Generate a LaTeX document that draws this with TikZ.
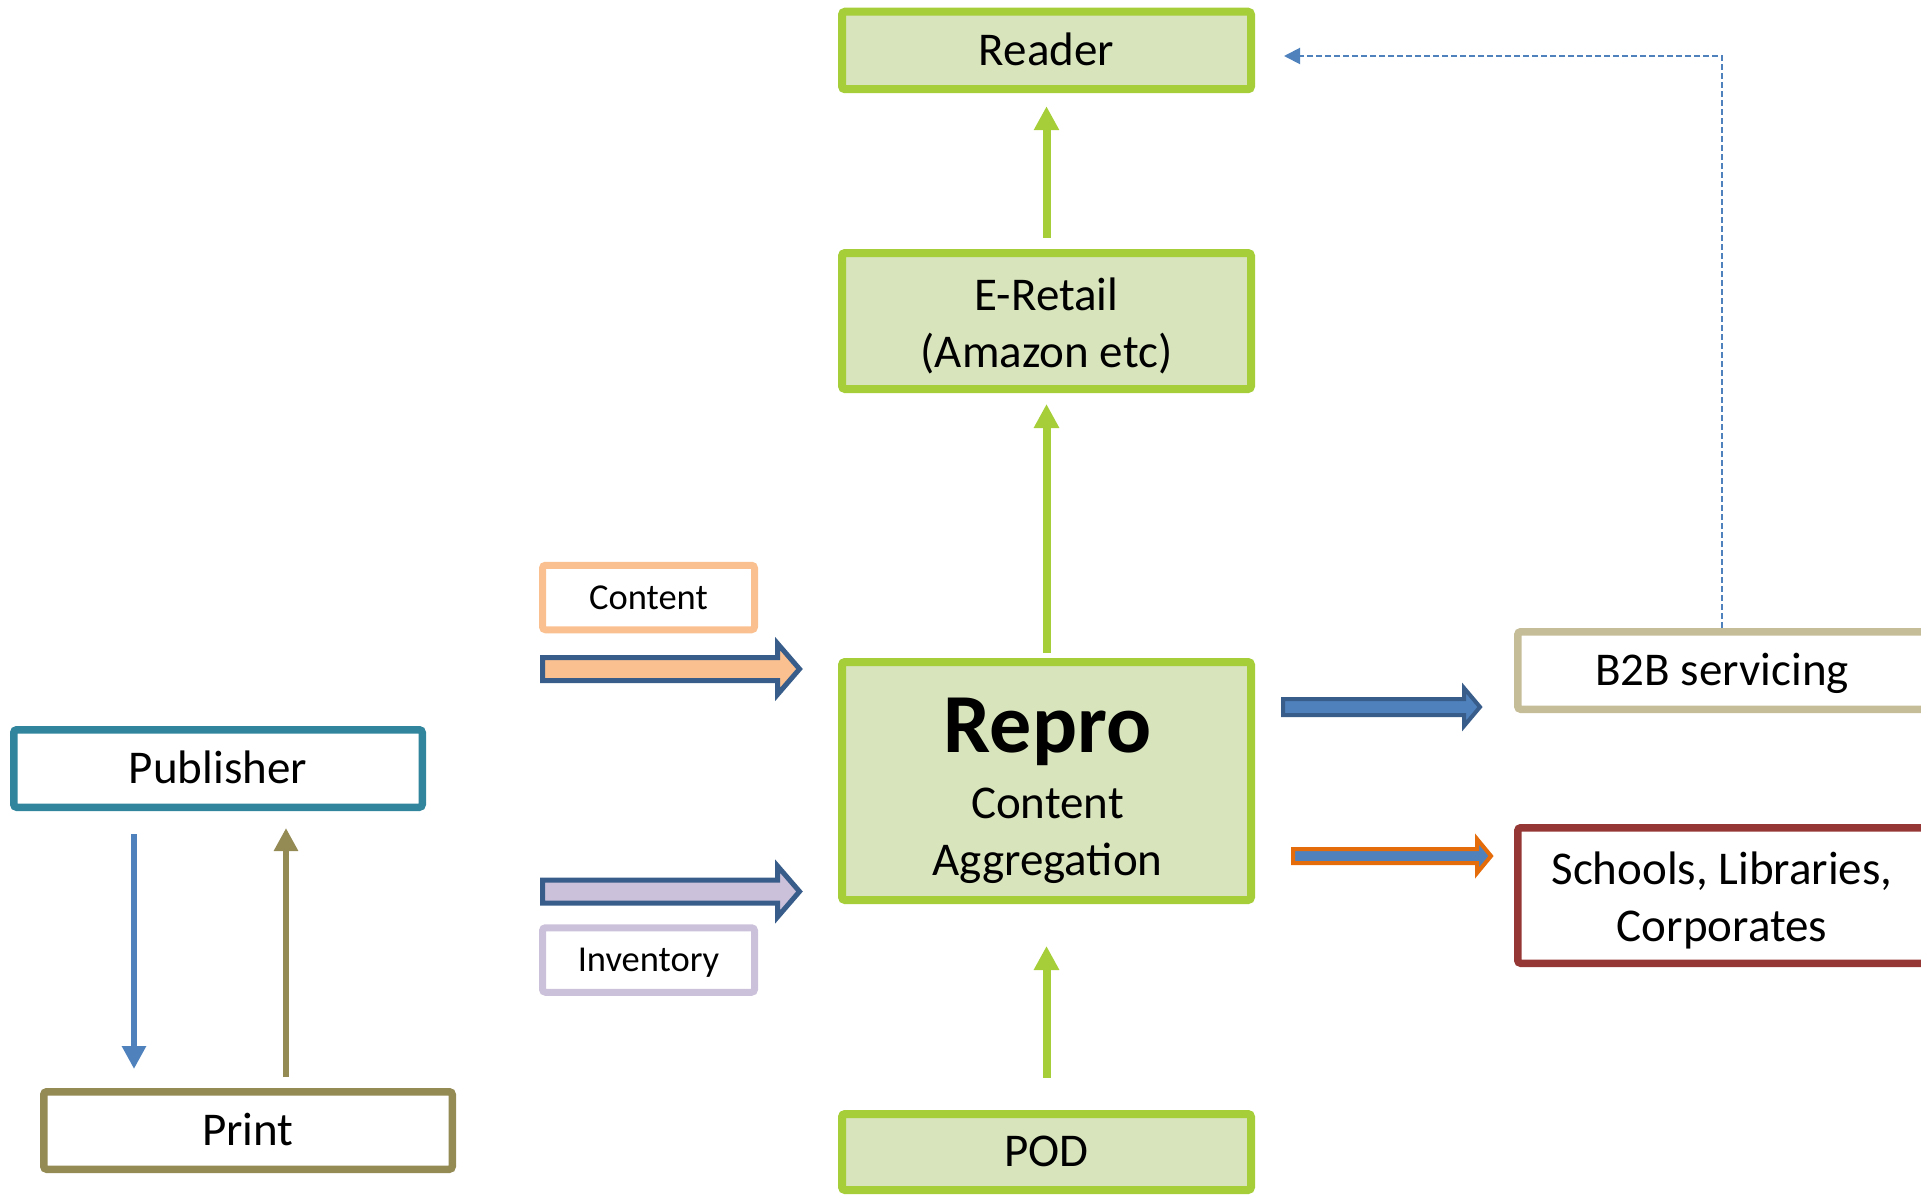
\documentclass[tikz,border=0pt]{standalone}
\usepackage{fontspec}
\setmainfont{Carlito}
\usetikzlibrary{arrows.meta}
\definecolor{grline}{RGB}{166,206,57}
\definecolor{grfill}{RGB}{216,228,188}
\definecolor{pubcol}{RGB}{49,133,156}
\definecolor{printcol}{RGB}{148,138,84}
\definecolor{bluecol}{RGB}{79,129,189}
\definecolor{darkblue}{RGB}{56,93,138}
\definecolor{lightorange}{RGB}{250,192,144}
\definecolor{lavender}{RGB}{204,193,218}
\definecolor{tancol}{RGB}{196,189,151}
\definecolor{darkredcol}{RGB}{149,55,53}
\definecolor{orangecol}{RGB}{228,108,10}
\begin{document}
\begin{tikzpicture}[x=1pt,y=-1pt,
  box/.style={draw, rounded corners=3pt, line width=7.5pt, inner sep=0pt,
    minimum width=408.5pt, minimum height=77.5pt, align=center,
    font=\fontsize{47}{57}\selectfont},
  oneline/.style={text height=29.5pt, text depth=0pt},
  gbox/.style={box, draw=grline, fill=grfill, line width=8pt, minimum width=409pt},
  tagbox/.style={box, minimum width=212pt, minimum height=64.5pt, line width=7pt,
    font=\fontsize{36.5}{43}\selectfont, text height=23pt, text depth=0pt},
  garrow/.style={draw=grline, line width=8pt, -{Triangle[length=24pt,width=24pt]}},
  barrow/.style={line join=miter}
]
\useasboundingbox (0,0) rectangle (1921,1196);
\clip (0,0) rectangle (1921,1196);

% green column
\node[gbox, oneline] (reader) at (1046.5,50.5) {Reader};
\node[gbox, minimum height=136pt] (eretail) at (1046.5,321) {\rule{0pt}{42pt}E-Retail\\(Amazon etc)};
\node[gbox, minimum height=238pt] (repro) at (1046.5,781) {};
\node[anchor=base, inner sep=0pt, font=\fontsize{84}{90}\selectfont\bfseries] (reprotitle) at (1047.5,752) {Repro};
\node[anchor=base, inner sep=0pt, font=\fontsize{47}{57}\selectfont] (reprosub1) at (1047.5,818) {Content};
\node[anchor=base, inner sep=0pt, font=\fontsize{47}{57}\selectfont] (reprosub2) at (1047.5,875) {Aggregation};
\node[gbox, oneline, minimum height=76pt] (pod) at (1046.5,1152) {POD};

\draw[garrow, shorten <=11pt, shorten >=13pt] (eretail.north) -- (reader.south);
\draw[garrow, shorten <=5pt, shorten >=11pt] (repro.north) -- (eretail.south);
\draw[garrow, shorten <=32pt, shorten >=42pt] (pod.north) -- (repro.south);

% left
\node[box, oneline, draw=pubcol] (publisher) at (218,768.5) {Publisher};
\node[box, oneline, draw=printcol] (print) at (248,1130.5) {Print};
\draw[draw=bluecol, line width=6.7pt, -{Triangle[length=23pt,width=23pt]}, shorten <=23pt, shorten >=19pt]
  ([xshift=-84pt]publisher.south) -- ([xshift=-84pt]publisher.south |- print.north);
\draw[draw=printcol, line width=6.7pt, -{Triangle[length=23pt,width=23pt]}, shorten <=11pt, shorten >=17pt]
  ([xshift=38pt]print.north) -- ([xshift=38pt]print.north |- publisher.south);

% input tags and block arrows
\node[tagbox, draw=lightorange] (content) at (648.5,597.5) {Content};
\node[tagbox, draw=lavender] (inventory) at (648.5,960) {Inventory};
\filldraw[barrow, line width=5pt, fill=lightorange, draw=darkblue]
  (542.5,657.5) -- (777.5,657.5) -- (777.5,643.5) -- (799.5,669) -- (777.5,694.5)
  -- (777.5,680.5) -- (542.5,680.5) -- cycle;
\filldraw[barrow, line width=5pt, fill=lavender, draw=darkblue]
  (542.5,880) -- (777.5,880) -- (777.5,866) -- (799.5,891.5) -- (777.5,917)
  -- (777.5,903) -- (542.5,903) -- cycle;

% right
\node[box, oneline, draw=tancol] (b2b) at (1722,670.5) {B2B servicing};
\node[box, draw=darkredcol, minimum height=135.5pt] (schools) at (1722,895.5) {\rule{0pt}{42pt}Schools, Libraries,\\Corporates};
\filldraw[barrow, line width=4pt, fill=bluecol, draw=darkblue]
  (1283,699) -- (1464,699) -- (1464,688) -- (1480,707) -- (1464,726)
  -- (1464,715) -- (1283,715) -- cycle;
\filldraw[barrow, line width=4pt, fill=bluecol, draw=orangecol]
  (1293,849) -- (1477,849) -- (1477,839) -- (1491,856) -- (1477,873)
  -- (1477,863) -- (1293,863) -- cycle;

% dashed feedback
\coordinate (dtip) at (1284,56);
\draw[draw=bluecol, line width=2pt, dash pattern=on 6pt off 3pt,
  -{Triangle[length=16pt,width=16pt]}] (b2b.north) |- (dtip);
\end{tikzpicture}
\end{document}
